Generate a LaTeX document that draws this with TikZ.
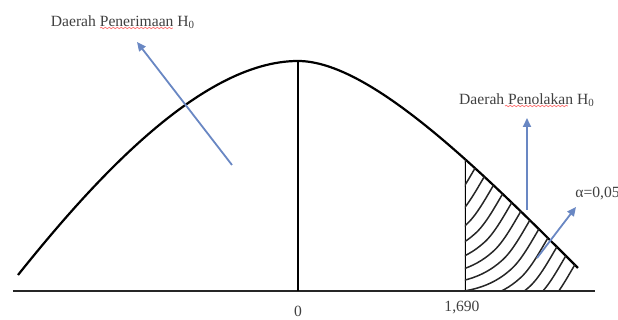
\documentclass[tikz,border=0pt]{standalone}
\usepackage{fontspec}
\setmainfont{Liberation Serif}
\usetikzlibrary{arrows.meta,decorations.pathmorphing}
\definecolor{arrowblue}{RGB}{105,135,195}
\tikzset{
  lbl/.style={font=\fontsize{7.8}{9}\selectfont, text=black!75, inner sep=0pt},
  bluearrow/.style={arrowblue, line width=0.9pt, -{Triangle[length=4.5pt,width=4pt]}},
  hatchline/.style={line width=0.75pt, black!85},
  spellmark/.style={red!55, line width=0.35pt, decorate,
    decoration={snake, amplitude=0.35pt, segment length=2pt}},
}
\begin{document}
\begin{tikzpicture}[x=0.5pt,y=-0.5pt]
  \useasboundingbox (0,0) rectangle (618,320);
  % axis and the line at 0
  \draw[line width=1.2pt, black!85] (13,291) -- (595,291);
  \coordinate (left) at (18,275);
  \coordinate (peak) at (298,61);
  \coordinate (right) at (578,268);
  \draw[line width=1pt] (peak) -- (298,291);
  % the curve
  \draw[line width=1.1pt] (left) .. controls (90,185) and (200,61) .. (peak)
    .. controls (370,61) and (480,170) .. (right);
  % rejection area: cut line at 1,690 and hatching
  \begin{scope}
    \clip (465,0) rectangle (620,291);
    \clip (298,291) -- (peak) .. controls (370,61) and (480,170) .. (right) -- (578,291) -- cycle;
    \draw[line width=1pt] (465,0) -- (465,291);
    \foreach \k [evaluate=\k as \ex using 466+9*\k,
                 evaluate=\k as \ey using 159+8.9*\k] in {0,...,12}
      \draw[hatchline] (\ex-120,\ey+62) .. controls (\ex-70,\ey+66) and (\ex-45,\ey+55)
        .. (\ex-28,\ey+40) .. controls (\ex-16,\ey+30) and (\ex-6,\ey+10) .. (\ex+5,\ey-8);
  \end{scope}
  % labels
  \node[lbl] (accept) at (123,22) {Daerah Penerimaan H\textsubscript{0}};
  \node[lbl] (reject) at (527,100) {Daerah Penolakan H\textsubscript{0}};
  \node[lbl, anchor=west] (alpha) at (575,194) {α=0,05};
  \node[lbl] (zero) at (298,311) {0};
  \node[lbl] (critval) at (462,308) {1,690};
  \draw[spellmark] (100,28) -- (173,28);
  \draw[spellmark] (505,106) -- (568,106);
  % arrows
  \coordinate (accepttail) at (232,165);
  \coordinate (accepttip) at (137,42);
  \coordinate (rejecttail) at (527,210);
  \coordinate (rejecttip) at (527,118);
  \coordinate (alphatail) at (537,258);
  \coordinate (alphatip) at (576,207);
  \draw[bluearrow] (accepttail) -- (accepttip);
  \draw[bluearrow] (rejecttail) -- (rejecttip);
  \draw[bluearrow] (alphatail) -- (alphatip);
\end{tikzpicture}
\end{document}
